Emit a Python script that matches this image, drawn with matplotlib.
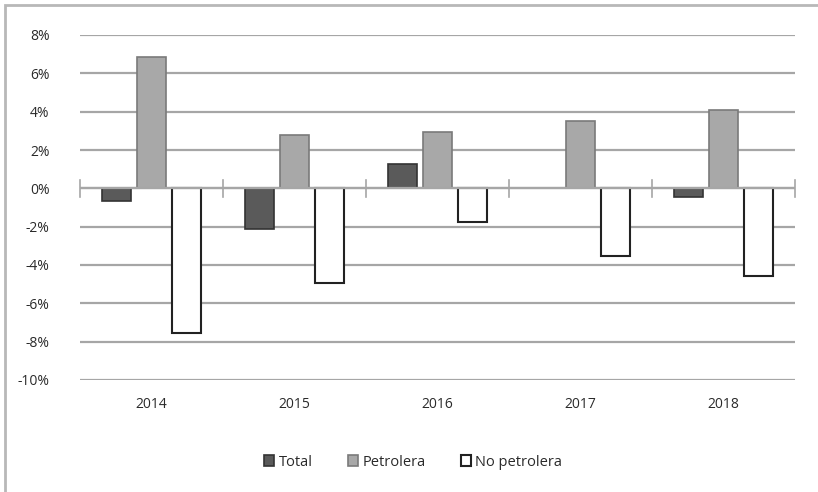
import numpy as np
import matplotlib.pyplot as plt
from matplotlib.patches import Rectangle
from matplotlib.ticker import FuncFormatter

plt.rcParams['font.family'] = ['Open Sans', 'DejaVu Sans']

# ---- Data ----
years = ["2014", "2015", "2016", "2017", "2018"]
total = [-0.65, -2.1, 1.28, 0.0, -0.45]
petrolera = [6.85, 2.78, 2.92, 3.51, 4.1]
no_petrolera = [-7.57, -4.96, -1.76, -3.53, -4.6]

# ---- Plot ----
fig = plt.figure(figsize=(8.18, 4.92), dpi=100)
ax = fig.add_axes([80 / 818, 1 - 380 / 492, 715 / 818, 345 / 492])

x = np.arange(len(years))
w = 0.2
off = 0.245
ax.bar(x - off, total, w, color="#5a5a5a", edgecolor="#333333", lw=1.2,
       label="Total", zorder=3)
ax.bar(x, petrolera, w, color="#a8a8a8", edgecolor="#7a7a7a", lw=1.2,
       label="Petrolera", zorder=3)
ax.bar(x + off, no_petrolera, w, color="white", edgecolor="#222222", lw=1.5,
       label="No petrolera", zorder=3)

ax.set_xlim(-0.5, len(years) - 0.5)
ax.set_ylim(-10, 8)
ax.set_yticks(np.arange(-10, 9, 2))
ax.yaxis.set_major_formatter(FuncFormatter(lambda v, p: f"{v:.0f}%"))
ax.grid(axis="y", color="#a6a6a6", lw=1.6, zorder=0)
ax.set_axisbelow(True)
for s in ax.spines.values():
    s.set_visible(False)
ax.tick_params(axis="y", length=0, pad=22, labelsize=10, labelcolor="#2a2a2a")
ax.tick_params(axis="x", length=0, pad=12, labelsize=10, labelcolor="#2a2a2a")
ax.set_xticks(x)
ax.set_xticklabels(years)

# zero line (drawn over the bars) with category separators
ax.axhline(0, color="#a6a6a6", lw=1.6, zorder=4)
for b in np.arange(-0.5, len(years), 1.0):
    ax.plot([b, b], [-0.45, 0.45], color="#a6a6a6", lw=1.2, zorder=4,
            clip_on=False)

leg = fig.legend(loc="center", bbox_to_anchor=(0.505, 1 - 462 / 492), ncol=3,
                 frameon=False, fontsize=10.5, handlelength=0.7,
                 handleheight=0.7, handletextpad=0.3, columnspacing=2.4)
for t in leg.get_texts():
    t.set_color("#2a2a2a")

# outer frame (partially cut off at right and bottom)
fig.patches.append(Rectangle((5 / 818, -0.1), 1.2, 1 - 5 / 492 + 0.1,
                             transform=fig.transFigure, fill=False,
                             edgecolor="#b8b8b8", lw=2))

fig.savefig("out.png", dpi=100)
